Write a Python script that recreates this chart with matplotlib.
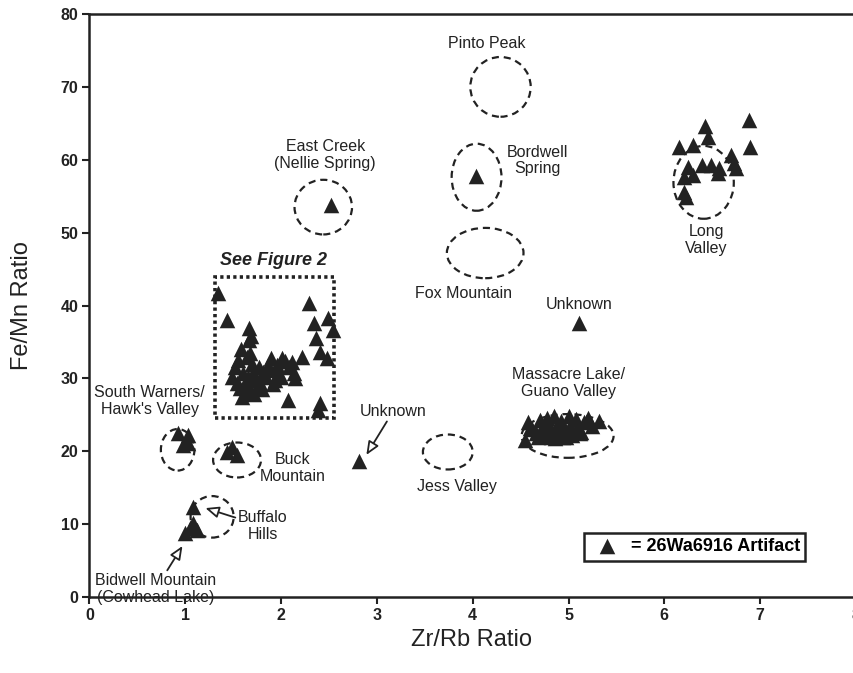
import numpy as np
import matplotlib.pyplot as plt
from matplotlib.patches import Ellipse, Rectangle

plt.rcParams['font.family'] = ['Liberation Sans', 'DejaVu Sans']
ink = '#222222'

# 26Wa6916 artifacts, Zr/Rb (x) vs Fe/Mn (y)
lv_x = [6.42, 6.46, 6.88, 6.15, 6.30, 6.89, 6.70, 6.73, 6.25, 6.39, 6.49, 6.57, 6.20, 6.30, 6.21, 6.23, 6.56, 6.75]
lv_y = [64.7, 63.1, 65.4, 61.7, 62.0, 61.7, 60.6, 59.5, 59.0, 59.3, 59.3, 58.8, 57.6, 57.9, 55.6, 54.9, 58.2, 58.8]

ml_x = [4.55, 4.58, 4.62, 4.66, 4.70, 4.72, 4.75, 4.78, 4.80, 4.83, 4.85, 4.88, 4.90, 4.92, 4.95, 4.97, 5.00,
        5.02, 5.05, 5.08, 5.10, 5.13, 5.16, 5.20, 5.25, 5.32, 4.68, 4.76, 4.86, 4.94, 5.04, 5.12, 4.60, 4.82]
ml_y = [21.6, 24.0, 23.0, 22.5, 24.3, 23.2, 22.6, 24.5, 23.4, 22.3, 24.8, 23.6, 22.5, 24.2, 23.1, 22.0, 24.9,
        23.5, 22.6, 24.4, 23.3, 22.7, 24.0, 24.6, 23.4, 24.1, 22.0, 22.1, 21.8, 22.0, 22.3, 22.5, 23.2, 21.9]

fig2_x = [1.34, 1.43, 2.29, 1.66, 1.66, 2.34, 2.49, 2.54, 2.36, 2.22, 2.41, 2.48, 2.01, 1.89, 2.08, 2.15,
          1.52, 1.49, 1.57, 1.59, 1.75, 1.71, 1.81, 1.94, 1.78, 2.07, 2.41, 2.39, 1.68, 1.86, 1.97, 1.65,
          1.68, 1.54, 1.55, 1.60, 1.63, 1.70, 1.73, 1.77, 1.80, 1.84, 1.88, 1.92, 1.96, 2.00, 2.04, 2.11,
          2.13, 1.62, 1.72, 1.58, 1.64, 1.69]
fig2_y = [41.7, 38.0, 40.3, 36.9, 35.3, 37.6, 38.3, 36.6, 35.5, 32.9, 33.6, 32.8, 32.8, 32.8, 31.6, 30.0,
          31.6, 30.2, 28.7, 27.4, 28.8, 30.7, 30.9, 29.8, 29.4, 27.0, 26.6, 25.6, 33.5, 31.8, 30.7, 30.2,
          28.4, 29.4, 32.5, 30.8, 29.2, 32.0, 29.8, 31.6, 28.6, 30.2, 31.2, 29.2, 31.8, 30.2, 32.4, 32.2,
          30.8, 28.0, 27.8, 34.0, 33.0, 35.8]

other_x = [2.52, 4.03, 5.11, 2.81, 0.92, 1.03, 0.98, 1.03, 1.44, 1.54, 1.49, 1.08, 1.05, 1.12, 1.08, 1.00]
other_y = [53.8, 57.8, 37.6, 18.7, 22.5, 22.2, 20.9, 21.1, 19.9, 19.5, 20.6, 12.3, 9.5, 9.2, 10.2, 8.8]

# source fields (dashed ellipses): centre and extent
src_x = [4.29, 2.44, 4.04, 4.13, 3.74, 1.54, 0.92, 1.28, 4.99, 6.41]
src_y = [70.0, 53.5, 57.6, 47.2, 19.9, 18.8, 20.2, 11.0, 22.1, 56.9]
src_w = [0.63, 0.60, 0.52, 0.80, 0.52, 0.50, 0.35, 0.45, 0.96, 0.63]
src_h = [8.2, 7.5, 9.2, 6.9, 4.8, 4.8, 5.7, 5.7, 6.0, 10.0]

x_ticks = [0, 1, 2, 3, 4, 5, 6, 7, 8]
y_ticks = [0, 10, 20, 30, 40, 50, 60, 70, 80]

fig = plt.figure(figsize=(8.54, 6.73), dpi=100)
ax = fig.add_axes([0.1048, 0.1129, 0.8975, 0.8663])

for cx, cy, w, h in zip(src_x, src_y, src_w, src_h):
    ax.add_patch(Ellipse((cx, cy), w, h, fill=False, ec=ink, lw=1.6, ls=(0, (3.2, 2.2))))

ax.add_patch(Rectangle((1.31, 24.6), 1.24, 19.3, fill=False, ec=ink, lw=2.6, ls=(0, (0.9, 0.9))))

all_x = lv_x + ml_x + fig2_x + other_x
all_y = lv_y + ml_y + fig2_y + other_y
pts = ax.scatter(all_x, all_y, marker='^', s=125, c=ink, linewidths=0, zorder=3, clip_on=False)

ax.set_xlim(0, 8)
ax.set_ylim(0, 80)
ax.set_xticks(x_ticks)
ax.set_yticks(y_ticks)
ax.tick_params(direction='out', length=5, width=1.5, colors=ink, labelsize=11.5, pad=3)
for lab in ax.get_xticklabels() + ax.get_yticklabels():
    lab.set_fontweight('bold')
for sp in ax.spines.values():
    sp.set_linewidth(1.8)
    sp.set_color(ink)

kw = dict(ha='center', va='center', fontsize=11.5, color=ink, linespacing=1.15)
ax.text(4.15, 75.9, 'Pinto Peak', **kw)
ax.text(2.46, 60.6, 'East Creek\n(Nellie Spring)', **kw)
ax.text(4.68, 59.9, 'Bordwell\nSpring', **kw)
ax.text(3.90, 41.7, 'Fox Mountain', **kw)
ax.text(6.44, 49.0, 'Long\nValley', **kw)
ax.text(5.11, 40.2, 'Unknown', **kw)
ax.text(5.00, 29.4, 'Massacre Lake/\nGuano Valley', **kw)
ax.text(0.63, 26.9, "South Warners/\nHawk's Valley", **kw)
ax.text(2.12, 17.7, 'Buck\nMountain', **kw)
ax.text(3.84, 15.1, 'Jess Valley', **kw)
ax.text(1.92, 46.2, 'See Figure 2', ha='center', va='center', fontsize=13,
        fontweight='bold', fontstyle='italic', color=ink)

arrow = dict(arrowstyle='-|>,head_length=0.7,head_width=0.3', fc='white', ec=ink, lw=1.3,
             shrinkA=0, shrinkB=0)
ax.annotate('Unknown', xy=(2.89, 19.5), xytext=(3.17, 25.5), arrowprops=arrow, **kw)
ax.annotate('Buffalo\nHills', xy=(1.21, 12.2), xytext=(1.81, 9.7), arrowprops=arrow, **kw)
ax.annotate('Bidwell Mountain\n(Cowhead Lake)', xy=(0.97, 7.0), xytext=(0.69, 1.1),
            arrowprops=arrow, annotation_clip=False, **kw)

leg = ax.legend([pts], ['= 26Wa6916 Artifact'], loc='lower left', bbox_to_anchor=(0.633, 0.047),
                fancybox=False, edgecolor=ink, framealpha=1, prop={'size': 13, 'weight': 'bold'},
                handletextpad=0.3, borderpad=0.3, scatterpoints=1)
leg.get_frame().set_linewidth(1.8)

ax.text(-0.088, 0.50, 'Fe/Mn Ratio', transform=ax.transAxes, rotation=90, ha='center',
        va='center', fontsize=17, color=ink)
ax.text(0.498, -0.074, 'Zr/Rb Ratio', transform=ax.transAxes, ha='center', va='center',
        fontsize=17, color=ink)

fig.savefig('out.png', dpi=100)
